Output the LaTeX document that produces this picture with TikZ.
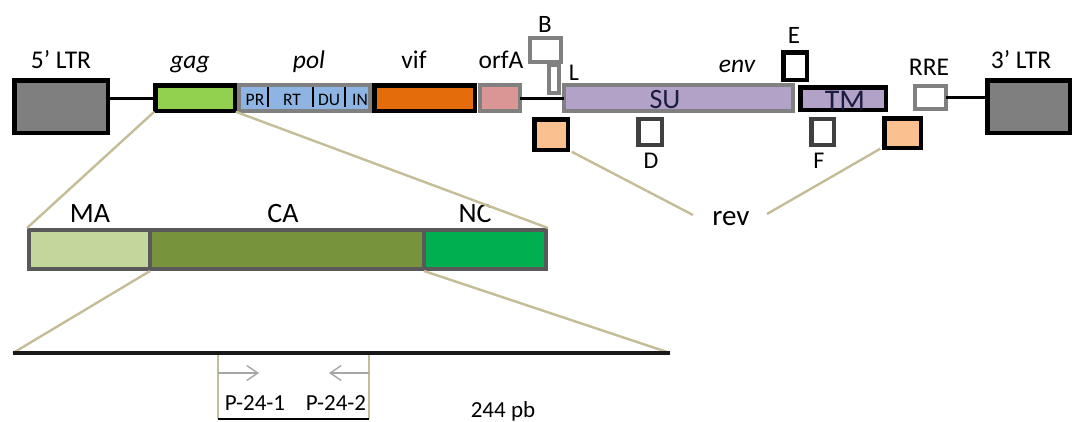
\documentclass[tikz,border=0pt]{standalone}
\usepackage{fontspec}
\setmainfont{Carlito}
\usetikzlibrary{arrows.meta}
\definecolor{ltrgray}{HTML}{7F7F7F}
\definecolor{gaggreen}{HTML}{92D050}
\definecolor{polblue}{HTML}{8DB4E2}
\definecolor{viforange}{HTML}{E46C0A}
\definecolor{orfapink}{HTML}{D99694}
\definecolor{envpurple}{HTML}{B3A2C7}
\definecolor{revpeach}{HTML}{FAC090}
\definecolor{magreen}{HTML}{C3D69B}
\definecolor{cagreen}{HTML}{77933C}
\definecolor{ncgreen}{HTML}{00B050}
\definecolor{bargray}{HTML}{595959}
\definecolor{midgray}{HTML}{808080}
\definecolor{darkgray}{HTML}{404040}
\definecolor{tanline}{HTML}{C4BD97}
\definecolor{arrowgray}{HTML}{A6A6A6}
\definecolor{navytext}{HTML}{1C1C40}
\tikzset{
  gbox/.style={rectangle, inner sep=0pt, outer sep=0pt, line width=4pt},
  blkbox/.style={gbox, draw=black, line width=4.5pt},
  grybox/.style={gbox, draw=midgray},
  dgrybox/.style={gbox, draw=darkgray, line width=4.5pt},
  barbox/.style={gbox, draw=bargray, line width=4pt},
  lbl/.style={inner sep=0pt, anchor=base, text=black, font=\fontsize{25.5}{30}\selectfont},
  smalllbl/.style={lbl, font=\fontsize{17.5}{20}\selectfont},
  tanlink/.style={draw=tanline, line width=2.4pt},
  thinlink/.style={draw=tanline, line width=1.2pt},
  dnaline/.style={draw=black, line width=3pt},
  primer/.style={draw=arrowgray, line width=1.4pt, -{Straight Barb[length=11pt,width=15pt,line width=1.4pt]}}
}
\begin{document}
\begin{tikzpicture}[x=1pt,y=-1pt]
\useasboundingbox (0,0) rectangle (1074,421);

% ---------- genome boxes ----------
\node[blkbox, fill=ltrgray, minimum width=93.5, minimum height=52.5] (ltr5) at (61,106.5) {};
\node[grybox, fill=polblue, minimum width=131, minimum height=26] (pol) at (304.5,98) {};
\node[blkbox, fill=gaggreen, minimum width=79.5, minimum height=25.5] (gag) at (195,98) {};
\node[blkbox, fill=viforange, minimum width=100.5, minimum height=25.5] (vif) at (424.5,98) {};
\node[grybox, fill=orfapink, minimum width=40, minimum height=26] (orfa) at (500,98) {};
\node[grybox, fill=envpurple, minimum width=229, minimum height=26] (su) at (678.5,98) {};
\node[blkbox, fill=white, minimum width=23.5, minimum height=27.5] (e) at (795,66) {};
\node[blkbox, fill=envpurple, minimum width=85.5, minimum height=22.5] (tm) at (843,98.5) {};
\node[grybox, fill=white, minimum width=31, minimum height=24] (b) at (545,49.5) {};
\node[grybox, fill=white, minimum width=10, minimum height=28] (l) at (553.5,79) {};
\node[blkbox, fill=revpeach, minimum width=33.5, minimum height=30.5] (rev1) at (551,134.5) {};
\node[dgrybox, fill=white, minimum width=23.5, minimum height=26] (d) at (650,132) {};
\node[dgrybox, fill=white, minimum width=22.5, minimum height=26] (f) at (822.5,132) {};
\node[blkbox, fill=revpeach, minimum width=36.5, minimum height=29.5] (rev2) at (902.5,133) {};
\node[grybox, fill=white, minimum width=31, minimum height=23] (rre) at (930,97) {};
\node[blkbox, fill=ltrgray, minimum width=82.5, minimum height=52.5] (ltr3) at (1028.5,106.5) {};

% connecting DNA lines
\draw[dnaline] (ltr5.east |- gag.west) -- (gag.west);
\draw[dnaline] (orfa.east) -- (su.west);
\draw[dnaline] (rre.east) -- (rre.east -| ltr3.west);

% pol domain separators
\coordinate (s1a) at (268,87); \coordinate (s1b) at (268,107);
\coordinate (s2a) at (313,87); \coordinate (s2b) at (313,107);
\coordinate (s3a) at (345,87); \coordinate (s3b) at (345,107);
\draw[line width=2.8pt] (s1a) -- (s1b);
\draw[line width=2.8pt] (s2a) -- (s2b);
\draw[line width=2.8pt] (s3a) -- (s3b);
\node[smalllbl] (pr) at (255,105) {PR};
\node[smalllbl] (rt) at (292,105) {RT};
\node[smalllbl] (du) at (329,105) {DU};
\node[smalllbl] (in) at (360,105) {IN};

% genome labels
\node[lbl] (t5ltr) at (61,68) {5’ LTR};
\node[lbl] (tgag) at (190,68) {\itshape gag};
\node[lbl] (tpol) at (309,68) {\itshape pol};
\node[lbl] (tvif) at (414,68) {vif};
\node[lbl] (torfa) at (501,68) {orfA};
\node[lbl, font=\fontsize{25}{28}\selectfont] (tb) at (545,32) {B};
\node[lbl, font=\fontsize{24}{28}\selectfont] (tl) at (574,80) {L};
\node[lbl, text=navytext, font=\fontsize{28}{32}\selectfont] (tsu) at (665,108) {SU};
\node[lbl] (tenv) at (737,72) {\itshape env};
\node[lbl, font=\fontsize{25}{28}\selectfont] (te) at (794,43) {E};
\node[lbl, text=navytext, font=\fontsize{30}{34}\selectfont] (ttm) at (845,110) {TM};
\node[lbl] (trre) at (929,75) {RRE};
\node[lbl] (t3ltr) at (1021,68) {3’ LTR};
\node[lbl, font=\fontsize{24}{28}\selectfont] (td) at (651,168) {D};
\node[lbl, font=\fontsize{24}{28}\selectfont] (tf) at (819,168) {F};
\node[lbl, font=\fontsize{29}{32}\selectfont] (trev) at (731,225) {rev};

% rev links
\draw[tanlink] (rev1.south east) ++(4,2) -- (693,215);
\draw[tanlink] (rev2.south west) ++(-4,1) -- (767,214);

% ---------- gag expansion ----------
\node[barbox, fill=magreen, minimum width=121, minimum height=39] (ma) at (89.5,249.5) {};
\node[barbox, fill=cagreen, minimum width=274, minimum height=39] (ca) at (287,249.5) {};
\node[barbox, fill=ncgreen, minimum width=122, minimum height=39] (nc) at (485,249.5) {};
\node[lbl, font=\fontsize{28}{32}\selectfont] (tma) at (90,222) {MA};
\node[lbl, font=\fontsize{28}{32}\selectfont] (tca) at (283,222) {CA};
\node[lbl, font=\fontsize{28}{32}\selectfont] (tnc) at (475,222) {NC};

\draw[tanlink] (gag.south west) ++(-1,1) -- ([shift={(-2,-2)}]ma.north west);
\draw[tanlink] (gag.south east) ++(1,1) -- ([shift={(2,-2)}]nc.north east);

% ---------- CA expansion ----------
\coordinate (dnaL) at (13,353);
\coordinate (dnaR) at (670,353);
\draw[tanlink] ([shift={(0,2)}]ma.south east) -- (dnaL);
\draw[tanlink] ([shift={(0,2)}]ca.south east) -- (dnaR);
\draw[draw=black!90, line width=4pt] (dnaL) -- (dnaR);

% amplicon
\coordinate (ampTL) at (218,355);
\coordinate (ampBL) at (218,419);
\coordinate (ampTR) at (369,355);
\coordinate (ampBR) at (369,419);
\draw[thinlink] (ampTL) -- (ampBL);
\draw[thinlink] (ampTR) -- (ampBR);
\draw[draw=black, line width=2.5pt] (ampBL) -- (ampBR);
\coordinate (p1s) at (218,373);
\coordinate (p1e) at (259,373);
\coordinate (p2s) at (369,373);
\coordinate (p2e) at (329,373);
\draw[primer] (p1s) -- (p1e);
\draw[primer] (p2s) -- (p2e);
\node[lbl, font=\fontsize{23}{27}\selectfont] (tp1) at (255,410) {P-24-1};
\node[lbl, font=\fontsize{23}{27}\selectfont] (tp2) at (336,410) {P-24-2};
\node[lbl, font=\fontsize{23}{27}\selectfont] (t244) at (503,417) {244 pb};
\end{tikzpicture}
\end{document}
